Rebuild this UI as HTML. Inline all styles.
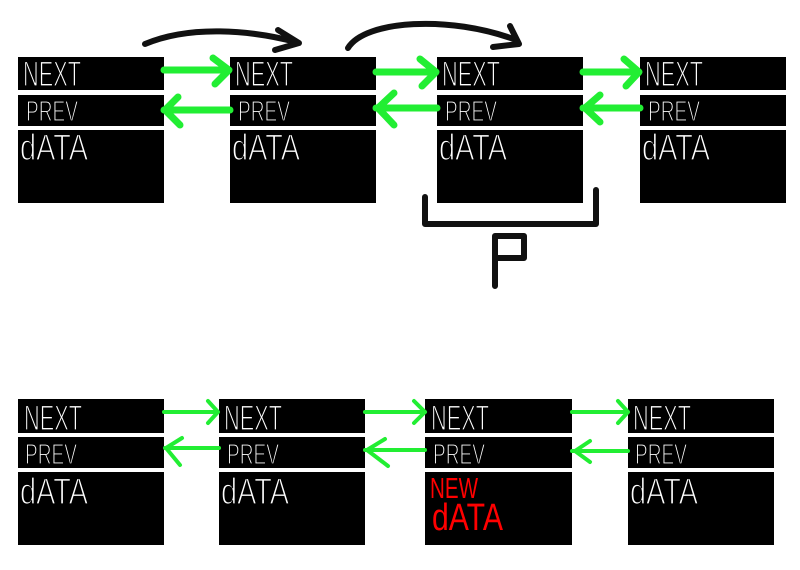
<!DOCTYPE html>
<html><head><meta charset="utf-8"><style>
html,body{margin:0;padding:0;background:#fff;}
svg{display:block}
text{font-family:"Liberation Sans",sans-serif;}
</style></head><body>
<svg width="800" height="570" viewBox="0 0 800 570" xmlns="http://www.w3.org/2000/svg">
<rect width="800" height="570" fill="#fff"/>
<g fill="#000">
  <rect x="18" y="57" width="146" height="33"/><rect x="18" y="95" width="146" height="31"/><rect x="18" y="130" width="146" height="73"/>
  <rect x="230" y="57" width="146" height="33"/><rect x="230" y="95" width="146" height="31"/><rect x="230" y="130" width="146" height="73"/>
  <rect x="437" y="57" width="146" height="33"/><rect x="437" y="95" width="146" height="31"/><rect x="437" y="130" width="146" height="73"/>
  <rect x="640" y="57" width="146" height="33"/><rect x="640" y="95" width="146" height="31"/><rect x="640" y="130" width="146" height="73"/>
  <rect x="18" y="399" width="146" height="34"/><rect x="18" y="437" width="146" height="31"/><rect x="18" y="472" width="146" height="73"/>
  <rect x="219" y="399" width="146" height="34"/><rect x="219" y="437" width="146" height="31"/><rect x="219" y="472" width="146" height="73"/>
  <rect x="425" y="399" width="147" height="34"/><rect x="425" y="437" width="147" height="31"/><rect x="425" y="472" width="147" height="73"/>
  <rect x="628" y="399" width="146" height="34"/><rect x="628" y="437" width="146" height="31"/><rect x="628" y="472" width="146" height="73"/>
</g>
<g fill="#fff" stroke="#000" stroke-width="1.3">
  <text x="23" y="86" font-size="35" textLength="58" lengthAdjust="spacingAndGlyphs">NEXT</text>
  <text x="26" y="121" font-size="29" textLength="52" lengthAdjust="spacingAndGlyphs">PREV</text>
  <text x="20" y="160" font-size="37" textLength="68" lengthAdjust="spacingAndGlyphs">dATA</text>
  <text x="235" y="86" font-size="35" textLength="58" lengthAdjust="spacingAndGlyphs">NEXT</text>
  <text x="238" y="121" font-size="29" textLength="52" lengthAdjust="spacingAndGlyphs">PREV</text>
  <text x="232" y="160" font-size="37" textLength="68" lengthAdjust="spacingAndGlyphs">dATA</text>
  <text x="442" y="86" font-size="35" textLength="58" lengthAdjust="spacingAndGlyphs">NEXT</text>
  <text x="445" y="121" font-size="29" textLength="52" lengthAdjust="spacingAndGlyphs">PREV</text>
  <text x="439" y="160" font-size="37" textLength="68" lengthAdjust="spacingAndGlyphs">dATA</text>
  <text x="645" y="86" font-size="35" textLength="58" lengthAdjust="spacingAndGlyphs">NEXT</text>
  <text x="648" y="121" font-size="29" textLength="52" lengthAdjust="spacingAndGlyphs">PREV</text>
  <text x="642" y="160" font-size="37" textLength="68" lengthAdjust="spacingAndGlyphs">dATA</text>

  <text x="24" y="430" font-size="35" textLength="58" lengthAdjust="spacingAndGlyphs">NEXT</text>
  <text x="25" y="464" font-size="29" textLength="52" lengthAdjust="spacingAndGlyphs">PREV</text>
  <text x="20" y="504" font-size="37" textLength="68" lengthAdjust="spacingAndGlyphs">dATA</text>
  <text x="224" y="430" font-size="35" textLength="58" lengthAdjust="spacingAndGlyphs">NEXT</text>
  <text x="227" y="464" font-size="29" textLength="52" lengthAdjust="spacingAndGlyphs">PREV</text>
  <text x="221" y="504" font-size="37" textLength="68" lengthAdjust="spacingAndGlyphs">dATA</text>
  <text x="431" y="430" font-size="35" textLength="58" lengthAdjust="spacingAndGlyphs">NEXT</text>
  <text x="433" y="464" font-size="29" textLength="52" lengthAdjust="spacingAndGlyphs">PREV</text>
  <text x="633" y="430" font-size="35" textLength="58" lengthAdjust="spacingAndGlyphs">NEXT</text>
  <text x="635" y="464" font-size="29" textLength="52" lengthAdjust="spacingAndGlyphs">PREV</text>
  <text x="630" y="504" font-size="37" textLength="68" lengthAdjust="spacingAndGlyphs">dATA</text>
</g>
<g fill="#f00">
  <text x="430" y="498" font-size="29" textLength="48" lengthAdjust="spacingAndGlyphs">NEW</text>
  <text x="432" y="530" font-size="38" textLength="71" lengthAdjust="spacingAndGlyphs">dATA</text>
</g>
<g stroke="#22ee33" stroke-width="7" fill="none" stroke-linecap="round" stroke-linejoin="round">
  <path d="M164 70 L228 70 M213 58 L229 70 L215 84"/>
  <path d="M164 110 L230 110 M178 97 L165 110 L180 125"/>
  <path d="M376 72 L435 72 M420 59 L436 72 L422 86"/>
  <path d="M376 108 L437 108 M394 93 L378 108 L394 125"/>
  <path d="M583 72 L638 72 M624 59 L639 72 L626 86"/>
  <path d="M583 108 L640 108 M600 95 L585 108 L600 122"/>
</g>
<g stroke="#22ee33" stroke-width="4" fill="none" stroke-linecap="round" stroke-linejoin="round">
  <path d="M164 412 L218 412 M208 401 L218 412 L208 423"/>
  <path d="M165 448 L219 448 M182 438 L166 448 L180 465"/>
  <path d="M365 412 L425 412 M414 401 L425 412 L414 423"/>
  <path d="M365 450 L425 450 M385 439 L367 450 L388 466"/>
  <path d="M572 412 L628 412 M618 401 L628 412 L618 423"/>
  <path d="M572 451 L628 451 M590 441 L575 451 L590 462"/>
</g>
<g stroke="#111" stroke-width="6" fill="none" stroke-linecap="round" stroke-linejoin="round">
  <path d="M145 44 C190 25 250 30 296 42"/>
  <path d="M278 30 L299 43 L275 50"/>
  <path d="M348 48 C365 20 450 15 516 40"/>
  <path d="M510 26 L519 44 L493 47"/>
  <path d="M425 197 L425 224 L596 224 L596 190"/>
  <path d="M495 286 L495 236 L524 236 L524 258 L495 258"/>
</g>
</svg>
</body></html>
